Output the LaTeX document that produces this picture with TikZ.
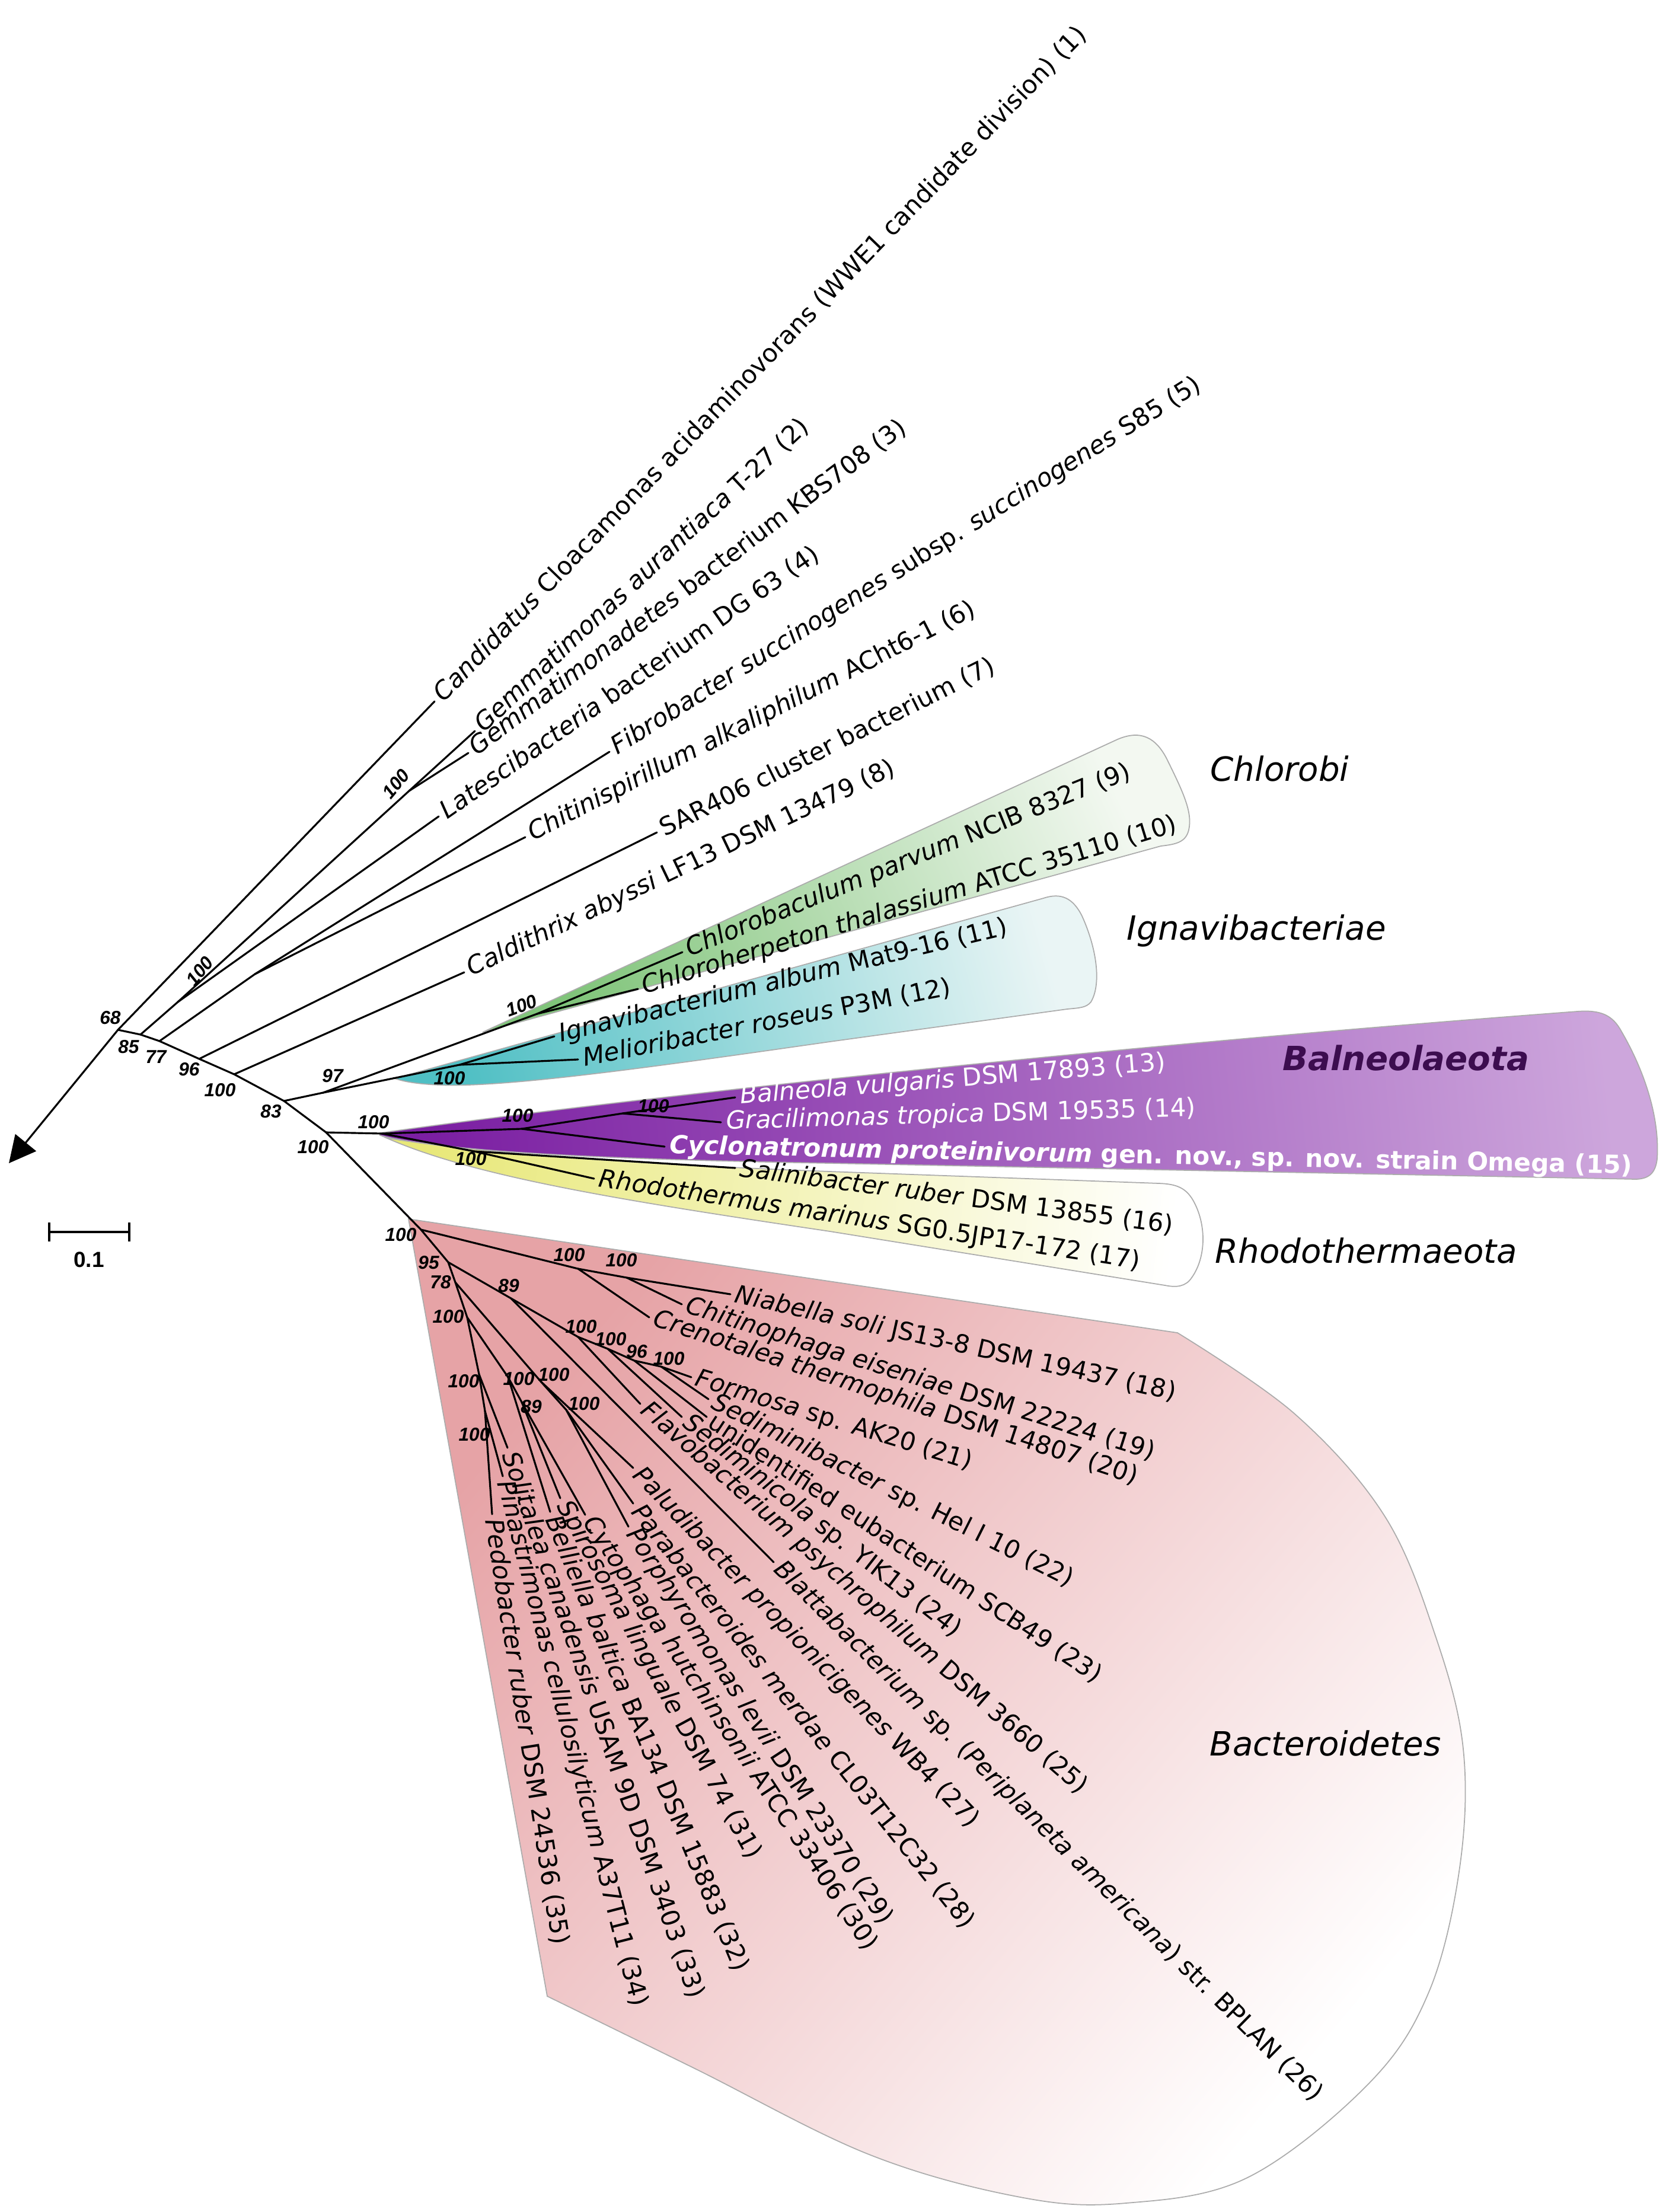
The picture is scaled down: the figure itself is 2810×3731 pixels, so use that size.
\documentclass[tikz,border=0pt]{standalone}
\usepackage{fontspec}
\setmainfont{DejaVu Sans}
\newfontfamily\bsfamily{Liberation Sans}
\usetikzlibrary{arrows.meta}
\definecolor{grA}{HTML}{80C47A}
\definecolor{grB}{HTML}{F3F8F1}
\definecolor{cyA}{HTML}{4FBFC4}
\definecolor{cyB}{HTML}{EAF5F5}
\definecolor{puA}{HTML}{7B1FA2}
\definecolor{puB}{HTML}{CDA6DC}
\definecolor{yeA}{HTML}{E8E878}
\definecolor{yeB}{HTML}{FFFFFF}
\definecolor{piA}{HTML}{E6A3A6}
\definecolor{piB}{HTML}{FFFFFF}
\definecolor{balneo}{HTML}{3C0D4F}
\newcommand\lf[4]{\coordinate (e#1) at #2;\node[lab, rotate=#3] (t#1) at (e#1) {#4};}
\begin{document}
\begin{tikzpicture}[x=0.1mm,y=-0.1mm,
  br/.style={line width=0.9pt, line join=round, line cap=round},
  lab/.style={font=\fontsize{12}{14}\selectfont, anchor=west, inner sep=0.8mm},
  bs/.style={font=\bsfamily\bfseries\itshape\fontsize{9}{10}\selectfont, inner sep=0},
  grp/.style={font=\itshape\fontsize{16}{18}\selectfont, anchor=west, inner sep=0},
  region/.style={draw=gray!65, line width=0.5pt}]
\useasboundingbox (0,0) rectangle (2810,3731);

% ---------- clade regions ----------
\shadedraw[region, left color=piA, right color=piB, shading angle=50]
  (689,2056) -- (1986,2248) -- plot[smooth, tension=0.6] coordinates {(1986,2248) (2184,2385) (2336,2558) (2422,2762) (2468,2950) (2462,3150) (2410,3360) (2308,3515) (2104,3673) (1899,3716) (1721,3706) (1466,3634) (1172,3489) (923,3367)} -- cycle;
\shadedraw[region, left color=grA, right color=grB, shading angle=114]
  (814,1741) -- (1885,1247) .. controls (1925,1230) and (1950,1245) .. (1968,1280)
  .. controls (1995,1335) and (2012,1370) .. (2005,1400) .. controls (2000,1420) and (1985,1424) .. (1958,1427) -- cycle;
\shadedraw[region, left color=cyA, right color=cyB, shading angle=105]
  (666,1819) -- (1760,1515) .. controls (1790,1505) and (1810,1515) .. (1825,1545)
  .. controls (1850,1600) and (1858,1660) .. (1840,1690) .. controls (1832,1700) and (1820,1700) .. (1800,1702)
  -- (1400,1757) .. controls (1100,1800) and (850,1835) .. (740,1830) .. controls (700,1828) and (680,1824) .. (666,1819) -- cycle;
\shadedraw[region, left color=puA, right color=puB, shading angle=96]
  (641,1911) .. controls (1000,1860) and (1800,1770) .. (2660,1706) .. controls (2700,1703) and (2720,1712) .. (2735,1740)
  .. controls (2770,1800) and (2800,1880) .. (2795,1955) .. controls (2792,1980) and (2780,1988) .. (2760,1989)
  -- (1400,1962) .. controls (1000,1955) and (750,1942) .. (641,1915) -- cycle;
\shadedraw[region, left color=yeA, right color=yeB, shading angle=84]
  (651,1919) .. controls (800,1945) and (1100,1965) .. (1400,1976) -- (1955,1996)
  .. controls (1985,1997) and (2000,2004) .. (2012,2024) .. controls (2035,2064) and (2035,2120) .. (2010,2155)
  .. controls (2000,2170) and (1985,2172) .. (1965,2168) -- (1400,2077) .. controls (1050,2025) and (800,1985) .. (651,1919) -- cycle;

% ---------- internal nodes ----------
\coordinate (tip) at (15,1962);
\coordinate (N1) at (199,1737);
\coordinate (N2) at (237,1745);
\coordinate (N3) at (269,1756);
\coordinate (N4) at (336,1786);
\coordinate (N5) at (395,1812);
\coordinate (N6) at (479,1857);
\coordinate (N7) at (550,1910);
\coordinate (B0) at (710,2074);
\coordinate (GL) at (300,1690);
\coordinate (G) at (690,1334);
\coordinate (FC) at (430,1643);
\coordinate (N97) at (545,1843);
\coordinate (Cn) at (906,1710);
\coordinate (In) at (775,1796);
\coordinate (Bn) at (645,1912);
\coordinate (Bb) at (880,1904);
\coordinate (Bg) at (1050,1878);
\coordinate (Rr) at (800,1942);
\coordinate (NA) at (975,2140);
\coordinate (NB) at (1057,2155);
\coordinate (B95) at (756,2129);
\coordinate (B89) at (862,2190);
\coordinate (F1) at (975,2255);
\coordinate (F2) at (1025,2275);
\coordinate (F3) at (1070,2295);
\coordinate (F4) at (1115,2305);
\coordinate (B78) at (768,2163);
\coordinate (S1) at (788,2222);
\coordinate (S2) at (808,2318);
\coordinate (S3) at (818,2380);
\coordinate (C1) at (857,2323);
\coordinate (C2) at (880,2365);
\coordinate (D1) at (912,2330);
\coordinate (D2) at (955,2378);

% ---------- leaves ----------
\lf{1}{(733,1183)}{46}{\textit{Candidatus} Cloacamonas acidaminovorans (WWE1 candidate division) (1)}
\lf{2}{(801,1233)}{43}{\textit{Gemmatimonas aurantiaca} T-27 (2)}
\lf{3}{(790,1270)}{37}{\textit{Gemmatimonadetes} bacterium KBS708 (3)}
\lf{4}{(740,1377)}{35}{\textit{Latescibacteria} bacterium DG 63 (4)}
\lf{5}{(1028,1268)}{32}{\textit{Fibrobacter succinogenes} subsp. \textit{succinogenes} S85 (5)}
\lf{6}{(886,1412)}{27}{\textit{Chitinispirillum alkaliphilum} ACht6-1 (6)}
\lf{7}{(1108,1404)}{26.5}{SAR406 cluster bacterium (7)}
\lf{8}{(783,1640)}{25.5}{\textit{Caldithrix abyssi} LF13 DSM 13479 (8)}
\lf{9}{(1151,1606)}{22}{\textit{Chlorobaculum parvum} NCIB 8327 (9)}
\lf{10}{(1076,1668)}{17}{\textit{Chloroherpeton thalassium} ATCC 35110 (10)}
\lf{11}{(935,1748)}{13.5}{\textit{Ignavibacterium album} Mat9-16 (11)}
\lf{12}{(975,1787)}{11}{\textit{Melioribacter roseus} P3M (12)}
\coordinate (e13) at (1240,1851);
\node[lab, text=white, rotate=4.5] (t13) at (e13) {\textit{Balneola vulgaris} DSM 17893 (13)};
\coordinate (e14) at (1216,1893);
\node[lab, text=white, rotate=1.6] (t14) at (e14) {\textit{Gracilimonas tropica} DSM 19535 (14)};
\coordinate (e15) at (1121,1934);
\node[lab, text=white, rotate=-1.2, font=\bfseries\fontsize{12}{14}\selectfont] (t15) at (e15) {\textit{Cyclonatronum proteinivorum} gen. nov., sp. nov. strain Omega (15)};
\lf{16}{(1240,1970)}{-7.5}{\textit{Salinibacter ruber} DSM 13855 (16)}
\lf{17}{(1002,1988)}{-8.7}{\textit{Rhodothermus marinus} SG0.5JP17-172 (17)}
\lf{18}{(1232,2183)}{-12.6}{\textit{Niabella soli} JS13-8 DSM 19437 (18)}
\lf{19}{(1150,2200)}{-17.5}{\textit{Chitinophaga eiseniae} DSM 22224 (19)}
\lf{20}{(1095,2222)}{-18.2}{\textit{Crenotalea thermophila} DSM 14807 (20)}
\lf{21}{(1166,2323)}{-17}{\textit{Formosa} sp. AK20 (21)}
\lf{22}{(1195,2360)}{-26.6}{\textit{Sediminibacter} sp. Hel I 10 (22)}
\lf{23}{(1192,2390)}{-33.5}{unidentified eubacterium SCB49 (23)}
\lf{24}{(1150,2390)}{-38}{\textit{Sediminicola} sp. YIK13 (24)}
\lf{25}{(1080,2368)}{-41}{\textit{Flavobacterium psychrophilum} DSM 3660 (25)}
\lf{26}{(1305,2635)}{-44.5}{\textit{Blattabacterium} sp. (\textit{Periplaneta americana}) str. BPLAN (26)}
\lf{27}{(1068,2476)}{-46.2}{\textit{Paludibacter propionicigenes} WB4 (27)}
\lf{28}{(1068,2536)}{-51.4}{\textit{Parabacteroides merdae} CL03T12C32 (28)}
\lf{29}{(1060,2575)}{-56.9}{\textit{Porphyromonas levii} DSM 23370 (29)}
\lf{30}{(987,2555)}{-56.6}{\textit{Cytophaga hutchinsonii} ATCC 33406 (30)}
\lf{31}{(945,2527)}{-61.6}{\textit{Spirosoma linguale} DSM 74 (31)}
\lf{32}{(928,2550)}{-67.3}{\textit{Belliella baltica} BA134 DSM 15883 (32)}
\lf{33}{(856,2442)}{-71}{\textit{Solitalea canadensis} USAM 9D DSM 3403 (33)}
\lf{34}{(848,2490)}{-75.6}{\textit{Pinastrimonas cellulosilyticum} A37T11 (34)}
\lf{35}{(830,2554)}{-81}{\textit{Pedobacter ruber} DSM 24536 (35)}

% ---------- branches ----------
\draw[br] (N1) -- (N2) -- (N3) -- (N4) -- (N5) -- (N6) -- (N7) -- (B0);
\draw[br, -{Triangle[length=4.5mm,width=4.5mm]}] (N1) -- (tip);
\draw[br] (N1) -- (e1);
\draw[br] (N2) -- (GL) -- (G) -- (e2);
\draw[br] (G) -- (e3);
\draw[br] (GL) -- (e4);
\draw[br] (N3) -- (FC) -- (e5);
\draw[br] (FC) -- (e6);
\draw[br] (N4) -- (e7);
\draw[br] (N5) -- (e8);
\draw[br] (N6) -- (N97) -- (Cn) -- (e9);
\draw[br] (Cn) -- (e10);
\draw[br] (N97) -- (In) -- (e11);
\draw[br] (In) -- (e12);
\draw[br] (N7) -- (Bn) -- (Bb) -- (e15);
\draw[br] (Bb) -- (Bg) -- (e13);
\draw[br] (Bg) -- (e14);
\draw[br] (Bn) -- (Rr) -- (e16);
\draw[br] (Rr) -- (e17);
\draw[br] (B0) -- (NA) -- (e20);
\draw[br] (NA) -- (NB) -- (e18);
\draw[br] (NB) -- (e19);
\draw[br] (B0) -- (B95) -- (B89) -- (F1) -- (F2) -- (F3) -- (F4) -- (e21);
\draw[br] (F4) -- (e22);
\draw[br] (F3) -- (e23);
\draw[br] (F2) -- (e24);
\draw[br] (F1) -- (e25);
\draw[br] (B89) -- (e26);
\draw[br] (B95) -- (B78) -- (S1) -- (S2) -- (S3) -- (e35);
\draw[br] (S3) -- (e34);
\draw[br] (S2) -- (e33);
\draw[br] (S1) -- (C1) -- (e32);
\draw[br] (C1) -- (C2) -- (e30);
\draw[br] (C2) -- (e31);
\draw[br] (B78) -- (D1) -- (e27);
\draw[br] (D1) -- (D2) -- (e28);
\draw[br] (D2) -- (e29);

% ---------- bootstrap values ----------
\node[bs] (b1) at (186,1717) {68};
\node[bs] (b2) at (217,1766) {85};
\node[bs] (b3) at (263,1783) {77};
\node[bs] (b4) at (319,1804) {96};
\node[bs] (b5) at (371,1839) {100};
\node[bs] (b6) at (457,1875) {83};
\node[bs] (b7) at (528,1935) {100};
\node[bs] (b8) at (561,1815) {97};
\node[bs] (b9) at (630,1893) {100};
\node[bs, rotate=50] (b10) at (337,1638) {100};
\node[bs, rotate=50] (b11) at (668,1322) {100};
\node[bs, rotate=20] (b12) at (880,1696) {100};
\node[bs] (b13) at (758,1819) {100};
\node[bs] (b14) at (873,1882) {100};
\node[bs] (b15) at (1102,1866) {100};
\node[bs] (b16) at (794,1955) {100};
\node[bs] (b17) at (676,2083) {100};
\node[bs] (b18) at (960,2117) {100};
\node[bs] (b19) at (1048,2126) {100};
\node[bs] (b20) at (723,2130) {95};
\node[bs] (b21) at (743,2163) {78};
\node[bs] (b22) at (858,2169) {89};
\node[bs] (b23) at (980,2238) {100};
\node[bs] (b24) at (1030,2259) {100};
\node[bs] (b25) at (1074,2280) {96};
\node[bs] (b26) at (1128,2292) {100};
\node[bs] (b27) at (756,2221) {100};
\node[bs] (b28) at (782,2330) {100};
\node[bs] (b29) at (875,2326) {100};
\node[bs] (b30) at (896,2373) {89};
\node[bs] (b31) at (934,2319) {100};
\node[bs] (b32) at (985,2368) {100};
\node[bs] (b33) at (800,2420) {100};

% ---------- clade names ----------
\node[grp] (gChl) at (2041,1297) {Chlorobi};
\node[grp] (gIgn) at (1900,1570) {Ignavibacteriae};
\node[grp, font=\bfseries\itshape\fontsize{16}{18}\selectfont, text=balneo] (gBal) at (2163,1785) {Balneolaeota};
\node[grp] (gRho) at (2049,2110) {Rhodothermaeota};
\node[grp] (gBac) at (2040,2940) {Bacteroidetes};

% ---------- scale bar ----------
\coordinate (sbA) at (83,2078);
\coordinate (sbB) at (218,2078);
\coordinate (sbA1) at (83,2062);
\coordinate (sbA2) at (83,2094);
\coordinate (sbB1) at (218,2062);
\coordinate (sbB2) at (218,2094);
\draw[line width=1.1pt] (sbA) -- (sbB);
\draw[line width=1.1pt] (sbA1) -- (sbA2);
\draw[line width=1.1pt] (sbB1) -- (sbB2);
\node[font=\bsfamily\bfseries\fontsize{10.5}{12}\selectfont] (sbl) at (150,2125) {0.1};
\end{tikzpicture}
\end{document}
